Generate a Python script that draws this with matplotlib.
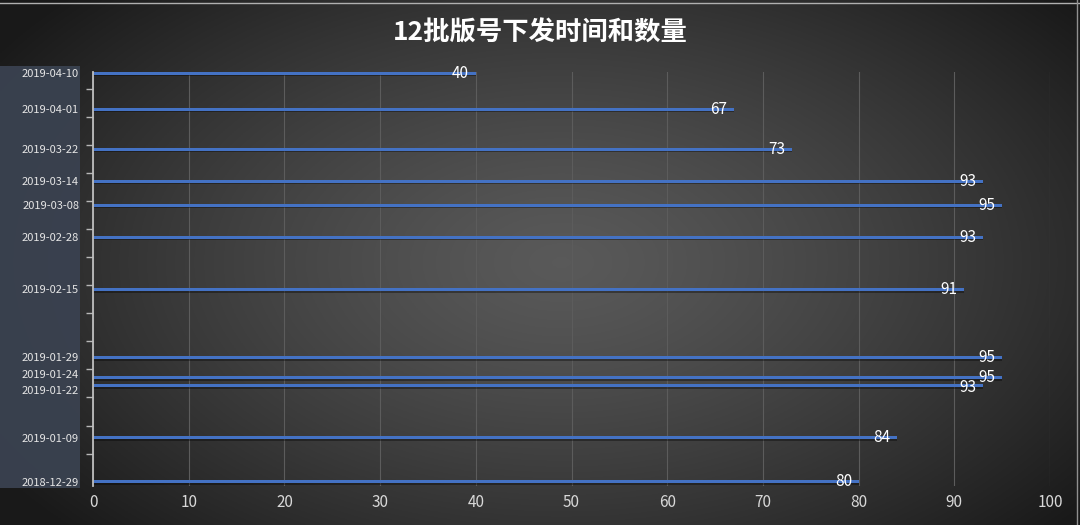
import numpy as np
import pandas as pd
import matplotlib
matplotlib.use("Agg")
import matplotlib.pyplot as plt
import matplotlib.dates as mdates
import matplotlib.transforms as mtransforms
from matplotlib.patches import Rectangle
from matplotlib.lines import Line2D

plt.rcParams['font.family'] = ['Noto Sans CJK SC', 'DejaVu Sans']

title = "12批版号下发时间和数量"
dates = ['2018-12-29', '2019-01-09', '2019-01-22', '2019-01-24', '2019-01-29',
         '2019-02-15', '2019-02-28', '2019-03-08', '2019-03-14', '2019-03-22',
         '2019-04-01', '2019-04-10']
values = [80, 84, 93, 95, 95, 91, 93, 95, 93, 73, 67, 40]
x_ticks = [0, 10, 20, 30, 40, 50, 60, 70, 80, 90, 100]

W, H = 1080, 525
fig = plt.figure(figsize=(W / 100, H / 100), dpi=100)

# background gradient
bg = fig.add_axes([0, 0, 1, 1], zorder=-10)
bg.set_axis_off()
yy, xx = np.mgrid[0:1:300j, 0:1:600j]
r = np.sqrt(((xx - 0.52) / 0.62) ** 2 + ((yy - 0.5) / 0.75) ** 2)
b = 0.35 - 0.25 * np.clip(r, 0, 1) ** 1.3
img = np.dstack([b, b, b])
bg.imshow(img, extent=[0, 1, 0, 1], aspect='auto', origin='lower')
bg.set_xlim(0, 1)
bg.set_ylim(0, 1)
# left label panel
bg.add_patch(Rectangle((0, (H - 488) / H), 80 / W, (488 - 66) / H,
                       facecolor='#3a4250', edgecolor='none', alpha=0.95))
# thin borders
bg.add_line(Line2D([0, 1], [1 - 3 / H, 1 - 3 / H], color='#b0b0b0', lw=1))
bg.add_line(Line2D([1 - 3 / W, 1 - 3 / W], [0, 1], color='#909090', lw=1))

ax = fig.add_axes([93 / W, 1 - 486 / H, (1050 - 93) / W, (486 - 72) / H])
ax.set_facecolor('none')

d = mdates.date2num(pd.to_datetime(dates))
d0 = mdates.date2num(pd.Timestamp('2018-12-29'))
d1 = mdates.date2num(pd.Timestamp('2019-04-10'))

# shadow then bars
ax.barh(d - 0.45, values, height=0.7, color='black', alpha=0.35, zorder=2)
ax.barh(d, values, height=0.75, color='#4472C4', zorder=3)

for ds, yv, v in zip(dates, d, values):
    dy = 0
    if ds == '2019-01-22':
        dy = -2
    t = ax.text(v - 0.7, yv, str(v), ha='right', va='center', color='white',
                fontsize=11, zorder=4)
    if dy:
        t.set_transform(ax.transData + mtransforms.ScaledTranslation(0, dy / 100, fig.dpi_scale_trans))

ax.set_xlim(0, 100)
ax.set_ylim(d0 - 1.1, d1 + 0.25)
ax.set_xticks(x_ticks)
ax.set_xticklabels([str(t) for t in x_ticks], color='#d8d8d8', fontsize=11)
ax.tick_params(axis='x', length=0, pad=6)
ax.set_yticks(d)
ax.set_yticklabels(dates, color='#e6e6e6', fontsize=8)
ax.tick_params(axis='y', which='major', length=0, pad=10)
weekly = mdates.date2num(pd.date_range('2018-12-29', '2019-04-10', freq='7D'))
ax.set_yticks(weekly, minor=True)
ax.tick_params(axis='y', which='minor', length=5, width=1, color='#b8b8b8', direction='out')

# separate the two crowded date labels as in the original
for lab in ax.get_yticklabels():
    txt = lab.get_text()
    if txt == '2019-01-24':
        lab.set_transform(lab.get_transform() + mtransforms.ScaledTranslation(0, 3 / 100, fig.dpi_scale_trans))
    elif txt == '2019-01-22':
        lab.set_transform(lab.get_transform() + mtransforms.ScaledTranslation(0, -5 / 100, fig.dpi_scale_trans))

ax.grid(axis='x', color='#5c5c5c', lw=0.8, zorder=0)
ax.grid(axis='y', visible=False)
for s in ['top', 'right', 'bottom']:
    ax.spines[s].set_visible(False)
ax.spines['left'].set_color('#bdbdbd')
ax.spines['left'].set_linewidth(1.3)
ax.spines['left'].set_zorder(5)

fig.text(0.5, 1 - 33 / H, title, ha='center', va='center', color='white',
         fontsize=19, fontweight='bold')

fig.savefig('out.png', dpi=100)
